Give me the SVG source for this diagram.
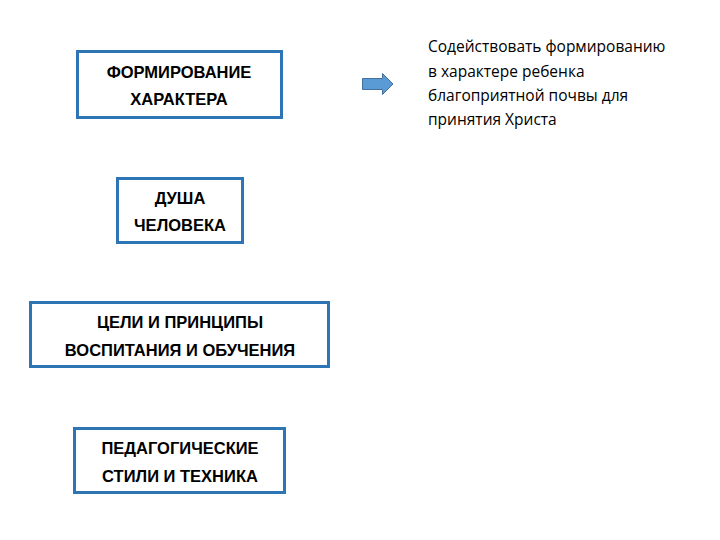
<svg xmlns="http://www.w3.org/2000/svg" width="720" height="540" viewBox="0 0 720 540">
<style>
.box{fill:#fff;stroke:#2e75b6;stroke-width:3}
.t{font-family:"Liberation Sans",Arial,sans-serif;font-weight:bold;font-size:16.5px;fill:#000;text-anchor:middle}
.r{font-family:"Open Sans","Liberation Sans",sans-serif;font-size:15.5px;fill:#000}
</style>
<rect width="720" height="540" fill="#fff"/>
<g id="n1"><rect class="box" x="77.5" y="51.5" width="204" height="66"/><text class="t" x="179" y="78">ФОРМИРОВАНИЕ</text><text class="t" x="179" y="105">ХАРАКТЕРА</text></g>
<g id="n2"><rect class="box" x="117.5" y="178.5" width="125" height="64"/><text class="t" x="180" y="204">ДУША</text><text class="t" x="180" y="231">ЧЕЛОВЕКА</text></g>
<g id="n3"><rect class="box" x="30.5" y="302.5" width="298" height="64"/><text class="t" x="180" y="328">ЦЕЛИ И ПРИНЦИПЫ</text><text class="t" x="180" y="356">ВОСПИТАНИЯ И ОБУЧЕНИЯ</text></g>
<g id="n4"><rect class="box" x="74.5" y="428.5" width="210" height="64"/><text class="t" x="180" y="454">ПЕДАГОГИЧЕСКИЕ</text><text class="t" x="180" y="482">СТИЛИ И ТЕХНИКА</text></g>
<g id="connectors"><path d="M362.5 78.5H382.5V73.5L393 84L382.5 94.5V89.5H362.5Z" fill="#5b9bd5" stroke="#41719c" stroke-width="1"/></g>
<g id="n5"><text class="r" x="428" y="52">Содействовать формированию</text><text class="r" x="428" y="77">в характере ребенка</text><text class="r" x="428" y="101">благоприятной почвы для</text><text class="r" x="428" y="125">принятия Христа</text></g>
</svg>
